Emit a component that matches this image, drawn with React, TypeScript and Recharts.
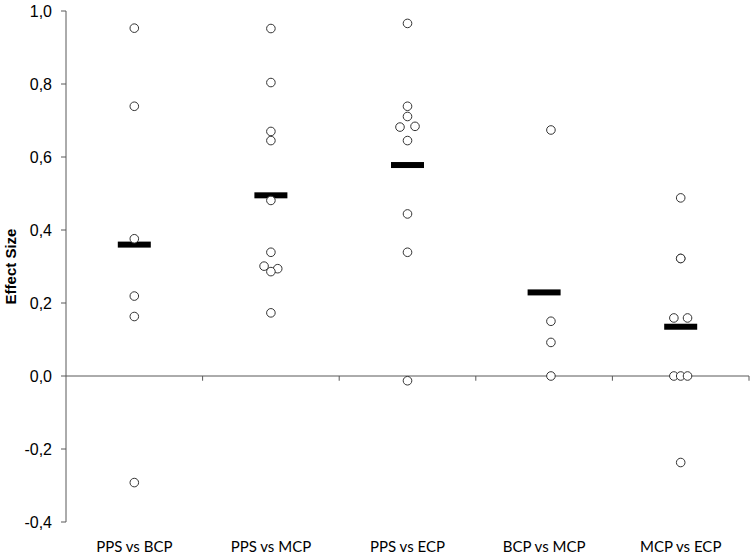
import { ScatterChart, Scatter, XAxis, YAxis, ReferenceLine, Label } from "recharts";

// comparison groups, one column each
const categories = ["PPS vs BCP", "PPS vs MCP", "PPS vs ECP", "BCP vs MCP", "MCP vs ECP"];

// individual effect sizes per comparison
const ppsBcp = [0.953, 0.739, 0.376, 0.219, 0.163, -0.292];
const ppsMcp = [0.952, 0.804, 0.67, 0.645, 0.481, 0.339, 0.301, 0.294, 0.286, 0.173];
const ppsEcp = [0.966, 0.739, 0.711, 0.682, 0.684, 0.645, 0.444, 0.339, -0.013];
const bcpMcp = [0.674, 0.15, 0.092, 0.0];
const mcpEcp = [0.488, 0.322, 0.322, 0.159, 0.159, 0.0, 0.0, 0.0, -0.237];

// horizontal spread of overlapping dots (in category units)
const ppsBcpSpread = [0, 0, 0, 0, 0, 0];
const ppsMcpSpread = [0, 0, 0, 0, 0, 0, -0.05, 0.05, 0, 0];
const ppsEcpSpread = [0, 0, 0, -0.055, 0.055, 0, 0, 0, 0];
const bcpMcpSpread = [0.05, 0.05, 0.05, 0.05];
const mcpEcpSpread = [0, 0, 0, -0.05, 0.05, -0.05, 0, 0.05, 0];

// group means
const means = [0.36, 0.495, 0.578, 0.229, 0.135];

const yTicks = [-0.4, -0.2, 0, 0.2, 0.4, 0.6, 0.8, 1.0];
const xTicks = [0.5, 1.5, 2.5, 3.5, 4.5];
const boundaries = [1, 2, 3, 4, 5];

const groups = [ppsBcp, ppsMcp, ppsEcp, bcpMcp, mcpEcp];
const spreads = [ppsBcpSpread, ppsMcpSpread, ppsEcpSpread, bcpMcpSpread, mcpEcpSpread];

const points = groups.flatMap((vals, i) =>
  vals.map((v, j) => ({ x: i + 0.5 + spreads[i][j], y: v }))
);
const meanPoints = means.map((m, i) => ({ x: i + 0.5, y: m }));

const AXIS = "#595959";

// eslint-disable-next-line @typescript-eslint/no-explicit-any
const OpenDot = (props: any) => {
  const { cx, cy } = props;
  return <circle cx={cx} cy={cy} r={4.3} fill="#fff" stroke="#333" strokeWidth={1} />;
};

// eslint-disable-next-line @typescript-eslint/no-explicit-any
const MeanBar = (props: any) => {
  const { cx, cy } = props;
  return <rect x={cx - 16.5} y={cy - 3} width={33} height={6} fill="#000" />;
};

export default function App() {
  return (
    <div style={{ position: "absolute", left: 0, top: 0, background: "#fff" }}>
      <ScatterChart width={753} height={554} margin={{ top: 11, right: 4, left: 0, bottom: 2 }}>
        <XAxis
          type="number"
          dataKey="x"
          domain={[0, 5]}
          ticks={xTicks}
          interval={0}
          tickFormatter={(v: number) => categories[Math.floor(v)]}
          axisLine={false}
          tickLine={false}
          height={30}
          tickMargin={13}
          tick={{ fontFamily: "Lato", fontSize: 15, fill: "#000" }}
        />
        <YAxis
          type="number"
          dataKey="y"
          domain={[-0.4, 1.0]}
          ticks={yTicks}
          interval={0}
          width={66}
          tickSize={5}
          tickMargin={9}
          tickFormatter={(v: number) => v.toFixed(1).replace(".", ",")}
          axisLine={{ stroke: AXIS }}
          tickLine={{ stroke: AXIS }}
          tick={{ fontFamily: "Liberation Sans, Arial", fontSize: 16, fill: "#000" }}
        >
          <Label
            value="Effect Size"
            angle={-90}
            position="insideLeft"
            offset={11}
            textAnchor="middle"
            style={{ fontFamily: "Liberation Sans, Arial", fontSize: 15, fontWeight: "bold", fill: "#000" }}
          />
        </YAxis>
        <ReferenceLine y={0} stroke={AXIS} strokeWidth={1} />
        {boundaries.map((b) => (
          <ReferenceLine key={b} segment={[{ x: b, y: 0 }, { x: b, y: -0.013 }]} stroke={AXIS} />
        ))}
        <Scatter data={meanPoints} shape={<MeanBar />} isAnimationActive={false} />
        <Scatter data={points} shape={<OpenDot />} isAnimationActive={false} />
      </ScatterChart>
    </div>
  );
}
